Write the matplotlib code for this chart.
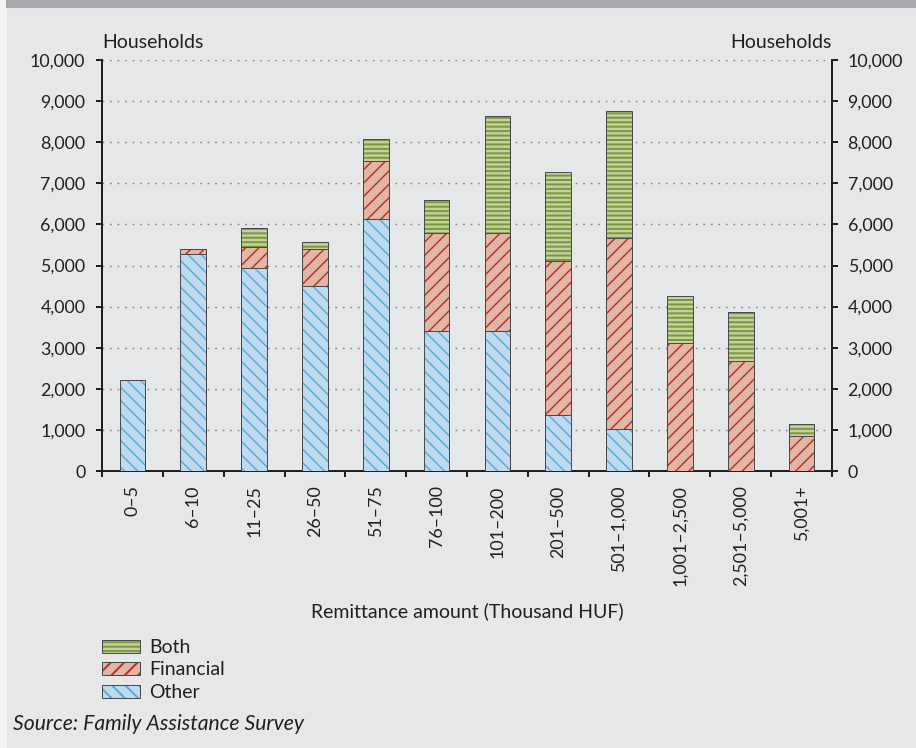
import numpy as np
import matplotlib
matplotlib.use("Agg")
import matplotlib.pyplot as plt
from matplotlib.patches import Rectangle, Patch
from matplotlib.legend_handler import HandlerTuple
from matplotlib.ticker import FuncFormatter, MultipleLocator

plt.rcParams['font.family'] = ['Lato', 'DejaVu Sans']

categories = ['0–5', '6–10', '11–25', '26–50', '51–75', '76–100', '101–200',
              '201–500', '501–1,000', '1,001–2,500', '2,501–5,000', '5,001+']
other = [2220, 5290, 4950, 4490, 6130, 3410, 3410, 1370, 1030, 0, 0, 0]
financial = [0, 110, 510, 900, 1420, 2380, 2390, 3740, 4650, 3125, 2665, 850]
both = [0, 0, 460, 190, 520, 800, 2830, 2160, 3070, 1140, 1200, 290]

DARK = '#231f20'
BG = '#e6e7e8'
W, H, DPI = 916, 748, 80
TXT = 17.6

fig = plt.figure(figsize=(W / DPI, H / DPI), dpi=DPI)
fig.patch.set_facecolor(BG)
fig.add_artist(Rectangle((0, 0), 6 / W, 1, transform=fig.transFigure,
                         color='#f4f4f4', zorder=0))
fig.add_artist(Rectangle((6 / W, 1 - 7 / H), 1, 7 / H, transform=fig.transFigure,
                         color='#a7a9ac', zorder=0))

ax = fig.add_axes([102 / W, 1 - 471 / H, 730 / W, 411 / H])
ax.set_facecolor('none')

x = np.arange(len(categories))
width = 0.42
other = np.array(other)
financial = np.array(financial)
both = np.array(both)

series = [
    ('Other', other, np.zeros(len(x)), '#bddaee', '#58a8da', '\\\\', 1.3),
    ('Financial', financial, other, '#e2b5a4', '#b3322c', '//', 1.3),
    ('Both', both, other + financial, '#c5d1a3', '#7b983a', '---', 1.8),
]

handles = {}
for name, vals, bottom, fill, hcol, hatch, hlw in series:
    keep = vals > 0
    plt.rcParams['hatch.linewidth'] = hlw
    ax.bar(x[keep], vals[keep], width, bottom=bottom[keep], color=fill,
           edgecolor=hcol, hatch=hatch, linewidth=0, zorder=3)
    ax.bar(x[keep], vals[keep], width, bottom=bottom[keep], fill=False,
           edgecolor='#4a4a4a', linewidth=0.9, zorder=4)
    p1 = Patch(facecolor=fill, edgecolor=hcol, hatch=hatch, linewidth=0)
    p2 = Patch(fill=False, edgecolor='#4a4a4a', linewidth=0.9)
    handles[name] = (p1, p2)

ax.set_xlim(-0.5, len(x) - 0.5)
ax.set_ylim(0, 10000)
ax.yaxis.set_major_locator(MultipleLocator(1000))
fmt = FuncFormatter(lambda v, p: f'{int(v):,}')
ax.yaxis.set_major_formatter(fmt)

for v in range(1000, 10001, 1000):
    ax.axhline(v, color='#858585', linewidth=1.3, linestyle=(0, (1.2, 4)), zorder=1)

ax.set_xticks(x)
ax.set_xticklabels(categories, rotation=90, fontsize=16, color=DARK)
ax.set_xticks(np.arange(-0.5, len(x)), minor=True)
ax.tick_params(axis='x', which='major', length=0, pad=13)
ax.tick_params(axis='x', which='minor', length=5, width=1.8, color=DARK, direction='out')
ax.tick_params(axis='y', length=5, width=1.8, color=DARK, labelsize=16,
               labelcolor=DARK, pad=10)

ax2 = ax.twinx()
ax2.set_ylim(0, 10000)
ax2.yaxis.set_major_locator(MultipleLocator(1000))
ax2.yaxis.set_major_formatter(fmt)
ax2.tick_params(axis='y', length=5, width=1.8, color=DARK, labelsize=16,
                labelcolor=DARK, pad=9)

for a in (ax, ax2):
    a.spines['top'].set_visible(False)
    for s in ('left', 'right', 'bottom'):
        a.spines[s].set_color(DARK)
        a.spines[s].set_linewidth(1.8)
ax.spines['right'].set_visible(False)
ax2.spines['left'].set_visible(False)
ax2.spines['bottom'].set_visible(False)

ax.text(0, 1.022, 'Households', transform=ax.transAxes, fontsize=TXT,
        color=DARK, ha='left', va='bottom')
ax.text(1, 1.022, 'Households', transform=ax.transAxes, fontsize=TXT,
        color=DARK, ha='right', va='bottom')

fig.text(467 / W, 1 - 611 / H, 'Remittance amount (Thousand HUF)', fontsize=TXT,
         color=DARK, ha='center', va='center')

order = ['Both', 'Financial', 'Other']
fig.legend([handles[n] for n in order], order,
           handler_map={tuple: HandlerTuple(ndivide=1)},
           loc='upper left', bbox_to_anchor=(102 / W, 1 - 639 / H),
           frameon=False, fontsize=TXT, handlelength=1.95, handleheight=0.65,
           handletextpad=0.45, labelspacing=0.28, borderpad=0, borderaxespad=0,
           labelcolor=DARK)

fig.text(13 / W, 1 - 724 / H, 'Source: Family Assistance Survey', fontsize=19,
         style='italic', color=DARK, ha='left', va='center')

fig.savefig('out.png', dpi=DPI, facecolor=fig.get_facecolor())
